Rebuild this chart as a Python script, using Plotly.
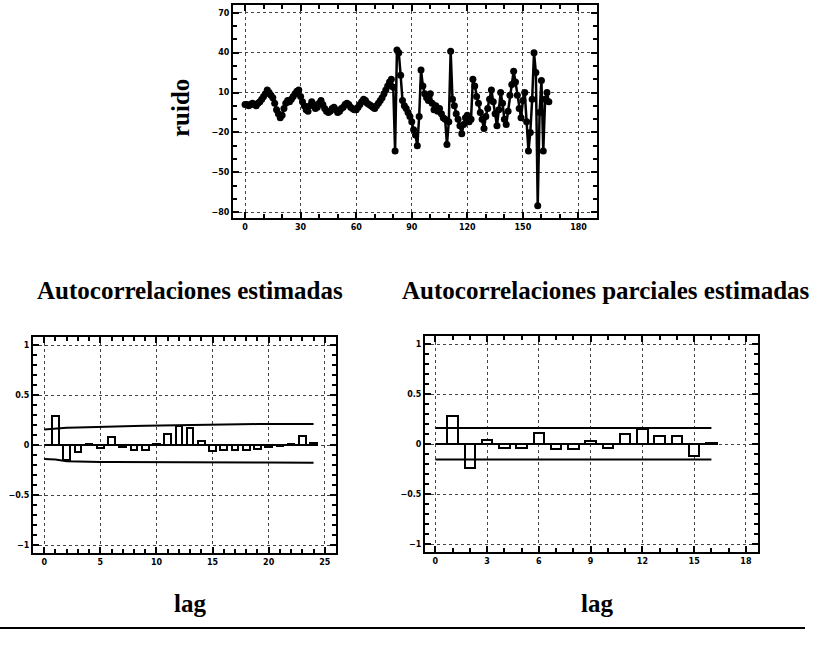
import plotly.graph_objects as go

# ---------------- data ----------------
ruido = [1, 1, 0, 1, 2, 1, 0, 2, 3, 5, 7, 9, 12, 10, 8, 6, 2, -3, -6, -9,
         -7, -2, 2, 4, 3, 5, 7, 9, 11, 12, 7, 3, 0, -3, -4, 0, 3, 1, -2, -1,
         2, 4, 1, -2, -4, -5, -4, -2, -1, -3, -5, -4, -2, -1, 1, 2, 1, -1, -2, -3,
         -3, -1, 1, 3, 5, 4, 2, 1, 0, -1, -2, 0, 2, 4, 6, 9, 12, 15, 18, 20,
         14, -34, 42, 40, 23, 4, 0, -2, -5, -8, -12, -18, -22, -30, -8, 27, 15, 9, 6, 4,
         9, 2, -3, 0, -4, -2, -6, -9, -10, -29, -12, 41, 5, 0, -6, -10, -15, -21, -14, -9,
         -7, -12, -10, 20, 15, 7, 2, -5, -10, -17, -8, -2, 5, 12, 3, -6, -15, -3, 10, 2,
         -10, -14, -4, 8, 16, 26, 18, 8, -2, -9, 4, 10, -12, -34, -20, 5, 40, 25, -75, -5,
         19, -34, 5, 10, 3]
t = list(range(len(ruido)))

acf_lags = list(range(1, 25))
acf_vals = [0.29, -0.15, -0.07, 0.01, -0.03, 0.08, -0.02, -0.05, -0.05, 0.01,
            0.11, 0.19, 0.17, 0.04, -0.06, -0.05, -0.05, -0.05, -0.04, -0.02,
            -0.01, 0.01, 0.09, 0.02]
acf_band_lags = list(range(0, 25))
acf_upper = [0.155, 0.165, 0.172, 0.176, 0.18, 0.183, 0.186, 0.188, 0.19, 0.192,
             0.194, 0.196, 0.2, 0.203, 0.205, 0.206, 0.207, 0.208, 0.208, 0.209,
             0.209, 0.21, 0.21, 0.21, 0.21]
acf_lower = [-0.14, -0.145, -0.162, -0.166, -0.168, -0.169, -0.17, -0.171, -0.171, -0.172,
             -0.172, -0.173, -0.173, -0.174, -0.174, -0.175, -0.175, -0.175, -0.176, -0.176,
             -0.176, -0.177, -0.177, -0.177, -0.177]

pacf_lags = list(range(1, 17))
pacf_vals = [0.28, -0.24, 0.04, -0.04, -0.04, 0.11, -0.05, -0.05, 0.03, -0.04,
             0.10, 0.15, 0.08, 0.08, -0.12, 0.01]
pacf_band_lags = [0, 16]
pacf_upper = [0.16, 0.16]
pacf_lower = [-0.155, -0.155]

# ---------------- figure ----------------
W, H = 817, 646
def fx(p): return p / W
def fy(p): return 1 - p / H

fig = go.Figure()

fig.add_trace(go.Scatter(x=t, y=ruido, mode="lines+markers",
                         line=dict(color="black", width=2.5),
                         marker=dict(color="black", size=7),
                         xaxis="x", yaxis="y", showlegend=False))

# ACF
fig.add_trace(go.Scatter(x=[0, 24], y=[0, 0], mode="lines", line=dict(color="black", width=2),
                         xaxis="x2", yaxis="y2", showlegend=False))
fig.add_trace(go.Bar(x=acf_lags, y=acf_vals, width=0.6,
                     marker=dict(color="white", line=dict(color="black", width=2)),
                     xaxis="x2", yaxis="y2", showlegend=False))
fig.add_trace(go.Scatter(x=acf_band_lags, y=acf_upper, mode="lines", line=dict(color="black", width=2),
                         xaxis="x2", yaxis="y2", showlegend=False))
fig.add_trace(go.Scatter(x=acf_band_lags, y=acf_lower, mode="lines", line=dict(color="black", width=2),
                         xaxis="x2", yaxis="y2", showlegend=False))

# PACF
fig.add_trace(go.Scatter(x=[0, 16], y=[0, 0], mode="lines", line=dict(color="black", width=2),
                         xaxis="x3", yaxis="y3", showlegend=False))
fig.add_trace(go.Bar(x=pacf_lags, y=pacf_vals, width=0.6,
                     marker=dict(color="white", line=dict(color="black", width=2)),
                     xaxis="x3", yaxis="y3", showlegend=False))
fig.add_trace(go.Scatter(x=pacf_band_lags, y=pacf_upper, mode="lines", line=dict(color="black", width=2),
                         xaxis="x3", yaxis="y3", showlegend=False))
fig.add_trace(go.Scatter(x=pacf_band_lags, y=pacf_lower, mode="lines", line=dict(color="black", width=2),
                         xaxis="x3", yaxis="y3", showlegend=False))

tickfont = dict(family="DejaVu Sans", size=8, color="black", weight="bold")

def axis(domain, rng, tick0, dtick, minor_dtick, anchor):
    return dict(domain=domain, range=rng, anchor=anchor,
                showline=True, linewidth=2, linecolor="black", mirror="allticks",
                ticks="inside", ticklen=6, tickwidth=2, tickcolor="black",
                tick0=tick0, dtick=dtick, tickfont=tickfont,
                showgrid=True, gridcolor="#444", gridwidth=1, griddash="dot",
                zeroline=False,
                minor=dict(ticks="inside", ticklen=4, tickwidth=2, tickcolor="black",
                           dtick=minor_dtick, showgrid=False))

fig.update_layout(
    width=W, height=H, margin=dict(l=0, r=0, t=0, b=0),
    paper_bgcolor="white", plot_bgcolor="white", bargap=0,
    xaxis=axis([fx(233), fx(597)], [-6.5, 190], 0, 30, 10, "y"),
    yaxis=axis([fy(218), fy(5)], [-84.3, 75.8], -80, 30, 10, "x"),
    xaxis2=axis([fx(33), fx(336)], [-1, 26], 0, 5, 1, "y2"),
    yaxis2=axis([fy(553), fy(337)], [-1.08, 1.08], -1, 0.5, 0.1, "x2"),
    xaxis3=axis([fx(425), fx(758)], [-0.6, 18.7], 0, 3, 1, "y3"),
    yaxis3=axis([fy(552), fy(336)], [-1.08, 1.08], -1, 0.5, 0.1, "x3"),
)

serif = dict(family="Liberation Serif", size=25, color="black")
anns = [
    dict(text="<b>ruido</b>", x=fx(181), y=fy(108), textangle=-90),
    dict(text="<b>Autocorrelaciones estimadas</b>", x=fx(190), y=fy(290)),
    dict(text="<b>Autocorrelaciones parciales estimadas</b>", x=fx(606), y=fy(290)),
    dict(text="<b>lag</b>", x=fx(190), y=fy(603)),
    dict(text="<b>lag</b>", x=fx(597), y=fy(603)),
]
for a in anns:
    fig.add_annotation(xref="paper", yref="paper", showarrow=False,
                       xanchor="center", yanchor="middle", font=serif, **a)

fig.add_shape(type="line", xref="paper", yref="paper",
              x0=0, x1=fx(805), y0=fy(628), y1=fy(628),
              line=dict(color="black", width=2))

fig.write_html("out.html")
